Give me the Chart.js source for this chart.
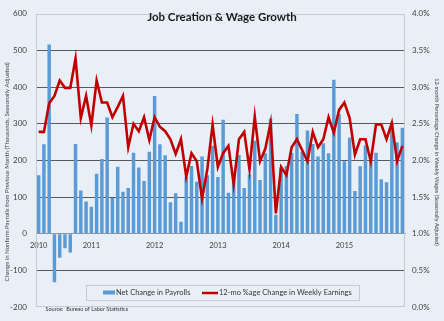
<!DOCTYPE html>
<html>
<head>
<meta charset="utf-8">
<script src="https://cdn.jsdelivr.net/npm/chart.js@4.4.1/dist/chart.umd.min.js"></script>
<style>
html,body{margin:0;padding:0;background:#e9eff7;}
#wrap{width:444px;height:321px;}
</style>
</head>
<body>
<div id="wrap"><canvas id="c" width="444" height="321"></canvas></div>
<script>
// Months: March 2010 .. December 2015
const categories = [
 '2010-03','2010-04','2010-05','2010-06','2010-07','2010-08','2010-09','2010-10','2010-11','2010-12',
 '2011-01','2011-02','2011-03','2011-04','2011-05','2011-06','2011-07','2011-08','2011-09','2011-10','2011-11','2011-12',
 '2012-01','2012-02','2012-03','2012-04','2012-05','2012-06','2012-07','2012-08','2012-09','2012-10','2012-11','2012-12',
 '2013-01','2013-02','2013-03','2013-04','2013-05','2013-06','2013-07','2013-08','2013-09','2013-10','2013-11','2013-12',
 '2014-01','2014-02','2014-03','2014-04','2014-05','2014-06','2014-07','2014-08','2014-09','2014-10','2014-11','2014-12',
 '2015-01','2015-02','2015-03','2015-04','2015-05','2015-06','2015-07','2015-08','2015-09','2015-10','2015-11','2015-12'
];
// Year tick labels shown on the category axis
const yearTicks = {'2010-03':'2010','2011-01':'2011','2012-01':'2012','2013-01':'2013','2014-01':'2014','2015-01':'2015'};

// Net change in nonfarm payrolls (thousands)
const payrolls = [
 160,244,516,-132,-65,-39,-51,245,118,88,
 74,164,204,317,98,183,115,125,221,181,144,224,
 376,244,214,86,111,33,155,185,142,211,160,240,
 155,311,112,160,215,125,162,254,147,220,314,52,
 181,185,221,327,224,282,245,211,247,220,420,327,
 198,263,117,184,241,211,221,149,141,303,249,289
];
// 12-month % change in weekly earnings
const wages = [
 2.39,2.39,2.78,2.88,3.09,2.99,2.99,3.39,2.58,2.88,
 2.48,3.09,2.79,2.79,2.59,2.73,2.88,2.18,2.50,2.40,2.59,2.28,
 2.59,2.46,2.40,2.29,2.09,2.29,1.78,2.10,1.99,1.48,1.88,2.49,
 1.91,2.10,2.20,1.68,2.29,2.39,1.88,2.60,1.99,2.16,2.51,1.28,
 1.91,1.80,2.18,2.29,2.14,1.99,2.39,2.18,2.29,2.59,2.38,2.69,
 2.79,2.58,2.08,2.29,2.29,1.99,2.49,2.49,2.29,2.51,1.99,2.20
];

const titleText = 'Job Creation & Wage Growth';
const leftTitle = 'Change in Nonfarm Payrolls from Previous Month (Thousands, Seasonally Adjusted)';
const rightTitle = '12-month Percentage Change in Weekly Wages (Seasonally Adjusted)';
const barLabel = 'Net Change in Payrolls';
const lineLabel = '12-mo %age Change in Weekly Earnings';
const sourceText = 'Source:  Bureau of Labor Statistics';

const BG = '#e9eff7';
const BLUE = '#5b9bd5';
const RED = '#c00000';
const FONT = 'Lato, "Open Sans", sans-serif';

const decor = {
  id: 'decor',
  beforeDraw(chart) {
    const ctx = chart.ctx;
    ctx.save();
    ctx.fillStyle = BG;
    ctx.fillRect(0, 0, chart.width, chart.height);
    ctx.restore();
  },
  afterDatasetsDraw(chart) {
    const ctx = chart.ctx;
    const a = chart.chartArea;
    ctx.save();
    // plot frame
    ctx.strokeStyle = '#c3cad3';
    ctx.lineWidth = 1;
    ctx.strokeRect(Math.round(a.left) + 0.5, Math.round(a.top) + 0.5, Math.round(a.right - a.left) - 1, Math.round(a.bottom - a.top) - 1);
    // title
    ctx.fillStyle = '#1a1a1a';
    ctx.font = 'bold 11.5px ' + FONT;
    ctx.textAlign = 'center';
    ctx.textBaseline = 'middle';
    ctx.fillText(titleText, 222, 17);
    // legend box
    ctx.fillStyle = BG;
    ctx.fillRect(86.5, 285.5, 273, 15);
    ctx.strokeStyle = '#c3cad3';
    ctx.strokeRect(86.5, 285.5, 273, 15);
    ctx.fillStyle = BLUE;
    ctx.fillRect(103, 290.5, 12, 4);
    ctx.strokeStyle = RED;
    ctx.lineWidth = 2.5;
    ctx.beginPath();
    ctx.moveTo(202, 293);
    ctx.lineTo(218, 293);
    ctx.stroke();
    ctx.fillStyle = '#333333';
    ctx.font = '7.5px ' + FONT;
    ctx.textAlign = 'left';
    ctx.textBaseline = 'middle';
    ctx.fillText(barLabel, 116, 293);
    ctx.fillText(lineLabel, 219, 293);
    // source
    ctx.font = '5.5px ' + FONT;
    ctx.fillStyle = '#333333';
    ctx.fillText(sourceText, 45.5, 309.5);
    // axis titles
    ctx.fillStyle = '#444444';
    ctx.font = '6px ' + FONT;
    ctx.textAlign = 'center';
    ctx.save();
    ctx.translate(7, 172);
    ctx.rotate(-Math.PI / 2);
    ctx.fillText(leftTitle, 0, 0);
    ctx.restore();
    ctx.save();
    ctx.translate(437, 162);
    ctx.rotate(Math.PI / 2);
    ctx.font = '5.5px ' + FONT;
    ctx.fillText(rightTitle, 0, 0);
    ctx.restore();
    ctx.restore();
  }
};

new Chart(document.getElementById('c'), {
  type: 'bar',
  data: {
    labels: categories,
    datasets: [
      {
        type: 'bar',
        label: barLabel,
        data: payrolls,
        yAxisID: 'y',
        backgroundColor: BLUE,
        borderWidth: 0,
        barPercentage: 0.66,
        categoryPercentage: 1.0,
        order: 2
      },
      {
        type: 'line',
        label: lineLabel,
        data: wages,
        yAxisID: 'y2',
        borderColor: RED,
        borderWidth: 2.6,
        pointRadius: 0,
        tension: 0,
        fill: false,
        order: 1
      }
    ]
  },
  options: {
    responsive: false,
    animation: false,
    devicePixelRatio: 1,
    layout: { padding: { left: 0, right: 0, top: 5, bottom: 6 } },
    plugins: { legend: { display: false }, title: { display: false }, tooltip: { enabled: false } },
    scales: {
      x: {
        position: { y: 0 },
        offset: true,
        grid: { display: false, drawTicks: false },
        border: { display: true, color: '#8f969e', width: 1 },
        ticks: {
          autoSkip: false, maxRotation: 0, minRotation: 0, padding: 7,
          color: '#404040', font: { family: FONT, size: 7.5 },
          callback: function (v, i) { return yearTicks[categories[i]] || ''; }
        }
      },
      y: {
        position: 'left',
        min: -200, max: 600,
        afterFit: function (s) { s.width = 36; },
        grid: {
          drawTicks: false,
          color: function (c) { const v = c.tick && c.tick.value; return (v === 600 || v === -200 || v === 0) ? 'rgba(0,0,0,0)' : '#595959'; },
          lineWidth: 1
        },
        border: { display: false },
        ticks: { stepSize: 100, padding: 9, color: '#404040', font: { family: FONT, size: 8 } }
      },
      y2: {
        position: 'right',
        min: 0, max: 4,
        afterFit: function (s) { s.width = 39; },
        grid: { display: false, drawTicks: false },
        border: { display: false },
        ticks: { stepSize: 0.5, padding: 7, color: '#404040', font: { family: FONT, size: 8 },
          callback: function (v) { return v.toFixed(1) + '%'; } }
      }
    }
  },
  plugins: [decor]
});
</script>
</body>
</html>
